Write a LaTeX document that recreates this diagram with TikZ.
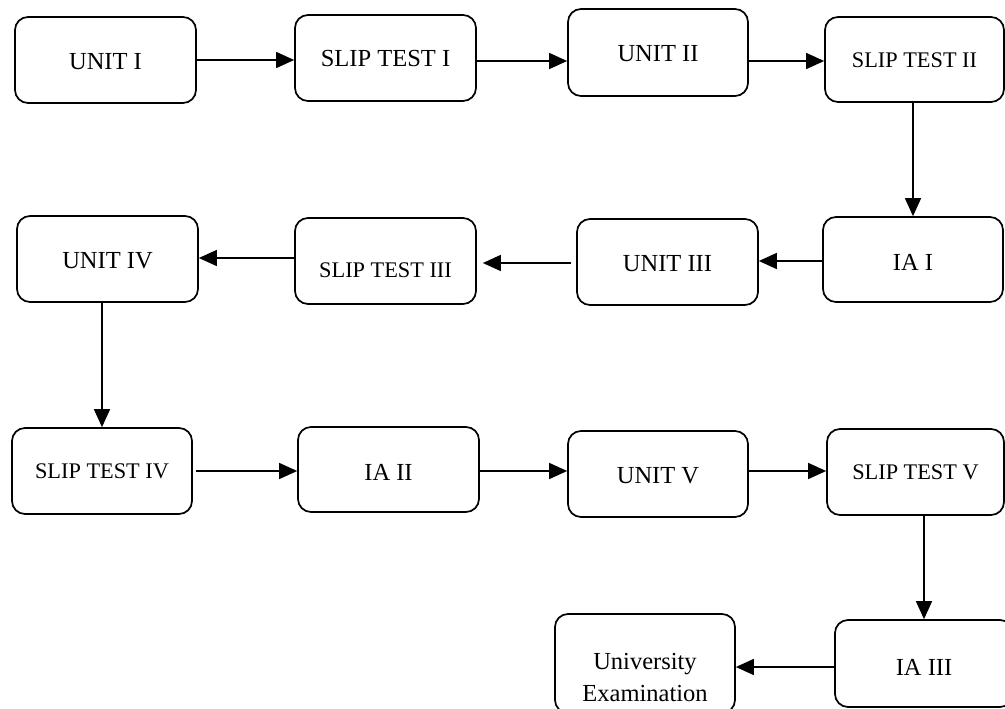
\documentclass[tikz,border=0pt]{standalone}
\usepackage{fontspec}
\setmainfont{Liberation Serif}
\usetikzlibrary{arrows.meta,calc}
\tikzset{
  box/.style={draw, line width=1.7pt, rectangle, rounded corners=13pt,
    inner sep=0pt, minimum width=181pt, minimum height=86pt,
    text depth=0pt, font=\fontsize{24.5pt}{29pt}\selectfont},
  smallfont/.style={font=\fontsize{22.3pt}{27pt}\selectfont},
  arr/.style={line width=1.5pt, -{Triangle[length=18pt,width=16pt]}}
}
\begin{document}
\begin{tikzpicture}[x=1pt,y=-1pt]
\useasboundingbox (0,0) rectangle (1005,709);
% row 1
\node[box, text height=20pt] (u1) at (105.5,60) {UNIT I};
\node[box, text height=18pt] (s1) at (385.5,58) {SLIP TEST I};
\node[box, text height=19pt, minimum width=180pt, minimum height=87pt] (u2) at (658,52.5) {UNIT II};
\node[box, smallfont, text height=17pt, minimum width=179pt, minimum height=85pt] (s2) at (914.5,59.5) {SLIP TEST II};
% row 2
\node[box, text height=18pt] (u4) at (107.5,259) {UNIT IV};
\node[box, smallfont, text height=32pt] (s3) at (385.5,261) {SLIP TEST III};
\node[box, text height=18pt] (u3) at (667.5,262) {UNIT III};
\node[box, text height=21pt, minimum width=180pt, minimum height=85pt] (ia1) at (913,259.5) {IA I};
% row 3
\node[box, smallfont, text height=14pt, minimum width=180pt] (s4) at (102,471) {SLIP TEST IV};
\node[box, text height=21pt, minimum height=85pt] (ia2) at (388.5,469.5) {IA II};
\node[box, text height=18pt, minimum width=180pt] (u5) at (658,474) {UNIT V};
\node[box, smallfont, text height=14pt, minimum width=177pt] (s5) at (915.5,472) {SLIP TEST V};
% row 4
\node[box, text height=23pt, minimum width=178pt, minimum height=87pt] (ia3) at (924,663.5) {IA III};
\node[box, text height=11pt, minimum width=180pt, minimum height=99pt] (ue) at (645,663.5)
  {\vtop{\baselineskip=32pt\halign{\hfil#\hfil\cr University\cr Examination\cr}}};
% connectors
\draw[arr] (u1.east) -- (u1.east -| s1.west);
\draw[arr] ($(s1.east)+(0,3)$) -- ($(s1.east -| u2.west)+(0,3)$);
\draw[arr] ($(u2.east |- s2.west)+(0,1.5)$) -- ($(s2.west)+(0,1.5)$);
\draw[arr] (ia1.north |- s2.south) -- (ia1.north);
\draw[arr] ($(ia1.west)+(0,1.5)$) -- ($(ia1.west -| u3.east)+(0,1.5)$);
\draw[arr] ($(u3.west)+(-5,1)$) -- ($(u3.west -| s3.east)+(6,1)$);
\draw[arr] ($(s3.west)+(0,-3)$) -- ($(s3.west -| u4.east)+(0,-3)$);
\draw[arr] (u4.south -| s4.north) -- (s4.north);
\draw[arr] ($(s4.east)+(3,0)$) -- (s4.east -| ia2.west);
\draw[arr] ($(ia2.east)+(0,1.5)$) -- ($(ia2.east -| u5.west)+(0,1.5)$);
\draw[arr] ($(u5.east |- s5.west)+(0,-1)$) -- ($(s5.west)+(0,-1)$);
\draw[arr] (ia3.north |- s5.south) -- (ia3.north);
\draw[arr] ($(ia3.west)+(0,3.5)$) -- ($(ia3.west -| ue.east)+(0,3.5)$);
\end{tikzpicture}
\end{document}
